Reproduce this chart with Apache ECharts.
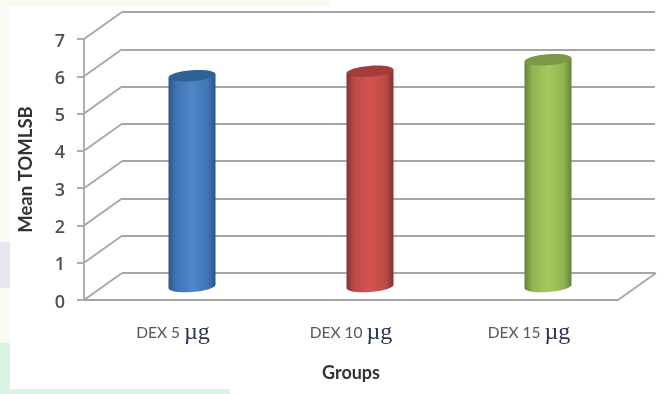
<!DOCTYPE html>
<html>
<head>
<meta charset="utf-8">
<style>html,body{margin:0;padding:0;background:#fff}#chart{width:665px;height:394px}</style>
<script src="https://cdn.jsdelivr.net/npm/echarts@6/dist/echarts.min.js"></script>
</head>
<body>
<div id="chart"></div>
<script>
const categories = ['DEX 5', 'DEX 10', 'DEX 15'];
const unitLabel = 'µg';
const meanValues = [5.65, 5.77, 6.08];
const axisTicks = [0, 1, 2, 3, 4, 5, 6, 7];
const bodyColors = [
  ['#2c5788', '#3f74b4', '#4f86c8'],
  ['#823130', '#bb4a47', '#d2544f'],
  ['#65803a', '#90b350', '#a6c95e']
];
const capColors = ['#2f6096', '#a33d3a', '#7a9846'];

const GRID_LINE = '#a6a6a6';
// Offset of the back wall from the front plane of the box
const DEPTH_X = 38;
const DEPTH_Y = -27;
const FRONT = { left: 84, top: 39, width: 534, height: 261 };

function bodyGradient(shades) {
  return {
    type: 'linear', x: 0, y: 0, x2: 1, y2: 0,
    colorStops: [
      { offset: 0, color: shades[0] },
      { offset: 0.16, color: shades[1] },
      { offset: 0.5, color: shades[2] },
      { offset: 0.84, color: shades[1] },
      { offset: 1, color: shades[0] }
    ]
  };
}

// Cylinder standing half way into the box depth
function renderCylinder(params, api) {
  const i = api.value(0);
  const top = api.coord([i, api.value(1)]);
  const base = api.coord([i, 0]);
  const cx = top[0] + DEPTH_X / 2;
  const topY = top[1] + DEPTH_Y / 2;
  const baseY = base[1] + DEPTH_Y / 2;
  const rx = 23.5, ry = 5.5, tilt = 1.8;
  const fill = bodyGradient(bodyColors[i]);
  const oval = (cy, style) => ({
    type: 'ellipse',
    x: cx, y: cy, rotation: 0.075,
    shape: { cx: 0, cy: 0, rx: rx, ry: ry },
    style: style
  });
  return {
    type: 'group',
    children: [
      oval(baseY, { fill: fill }),
      {
        type: 'polygon',
        shape: {
          points: [
            [cx - rx, topY + tilt], [cx + rx, topY - tilt],
            [cx + rx, baseY - tilt], [cx - rx, baseY + tilt]
          ]
        },
        style: { fill: fill }
      },
      oval(topY, { fill: capColors[i] })
    ]
  };
}

// Side-wall connector from a front tick to the back wall
function renderConnector(params, api) {
  const y = api.coord([0, api.value(0)])[1];
  const x = params.coordSys.x;
  return {
    type: 'line',
    shape: { x1: x, y1: y, x2: x + DEPTH_X, y2: y + DEPTH_Y },
    style: { stroke: GRID_LINE, lineWidth: 1.8 }
  };
}

// Closing edge on the right of the floor
function renderFloorEdge(params, api) {
  const y = api.coord([0, 0])[1];
  const x = params.coordSys.x + params.coordSys.width;
  return {
    type: 'line',
    shape: { x1: x, y1: y, x2: x + DEPTH_X, y2: y + DEPTH_Y },
    style: { stroke: GRID_LINE, lineWidth: 1.8 }
  };
}

const chart = echarts.init(document.getElementById('chart'), null, { renderer: 'canvas' });

const edgeTint = (x, y, width, height, fill) => ({
  type: 'rect', silent: true, z: -10,
  shape: { x, y, width, height }, style: { fill }
});

chart.setOption({
  animation: false,
  backgroundColor: '#ffffff',
  graphic: [
    edgeTint(0, 0, 10, 394, '#f8fbf3'),
    edgeTint(0, 0, 330, 6, '#f6faef'),
    edgeTint(0, 242, 10, 46, '#e6e6f0'),
    edgeTint(0, 343, 10, 51, '#d9f3e4'),
    edgeTint(0, 389, 230, 5, '#d9f3e4')
  ],
  grid: [
    { ...FRONT },
    {
      left: FRONT.left + DEPTH_X, top: FRONT.top + DEPTH_Y,
      width: FRONT.width - 1, height: FRONT.height
    }
  ],
  xAxis: [
    {
      type: 'category', gridIndex: 0, data: categories,
      name: 'Groups', nameLocation: 'middle', nameGap: 64,
      nameTextStyle: { fontFamily: 'Lato', fontWeight: 'bold', fontSize: 18, color: '#333333' },
      axisLine: { lineStyle: { color: GRID_LINE, width: 1.8 } },
      axisTick: { show: false },
      axisLabel: {
        margin: 21,
        formatter: v => `{t|${v} }{u|${unitLabel}}`,
        rich: {
          t: { fontFamily: 'Lato', fontSize: 15.5, color: '#555555' },
          u: { fontFamily: 'Liberation Serif', fontSize: 24, color: '#2b3550' }
        }
      }
    },
    { type: 'category', gridIndex: 1, data: categories, show: false }
  ],
  yAxis: [
    {
      type: 'value', gridIndex: 0, min: 0, max: 7, interval: 1,
      name: 'Mean TOMLSB', nameLocation: 'middle', nameGap: 48, nameRotate: 90,
      nameTextStyle: { fontFamily: 'Lato', fontWeight: 'bold', fontSize: 18.5, color: '#333333' },
      axisLine: { show: true, lineStyle: { color: GRID_LINE, width: 1.8 } },
      axisTick: { show: true, length: 7, lineStyle: { color: GRID_LINE, width: 1.8 } },
      axisLabel: {
        margin: 19,
        customValues: axisTicks,
        formatter: v => `{n|${v}}`,
        rich: {
          n: {
            fontFamily: 'Open Sans', fontSize: 18, fontWeight: 600, color: '#505050',
            padding: [5, 0, 0, 0]
          }
        }
      },
      splitLine: { show: false }
    },
    {
      type: 'value', gridIndex: 1, min: 0, max: 7, interval: 1,
      axisLine: { show: false }, axisTick: { show: false }, axisLabel: { show: false },
      splitLine: { show: true, lineStyle: { color: GRID_LINE, width: 1.8 } }
    }
  ],
  series: [
    {
      type: 'custom', xAxisIndex: 0, yAxisIndex: 0, z: 1, silent: true,
      renderItem: renderConnector,
      encode: { y: 0 },
      data: axisTicks.map(v => [v])
    },
    {
      type: 'custom', xAxisIndex: 0, yAxisIndex: 0, z: 1, silent: true,
      renderItem: renderFloorEdge,
      encode: { y: 0 },
      data: [[0]]
    },
    {
      type: 'custom', xAxisIndex: 0, yAxisIndex: 0, z: 3, silent: true,
      renderItem: renderCylinder,
      encode: { x: 0, y: 1 },
      data: meanValues.map((v, i) => [i, v])
    }
  ]
});
</script>
</body>
</html>
